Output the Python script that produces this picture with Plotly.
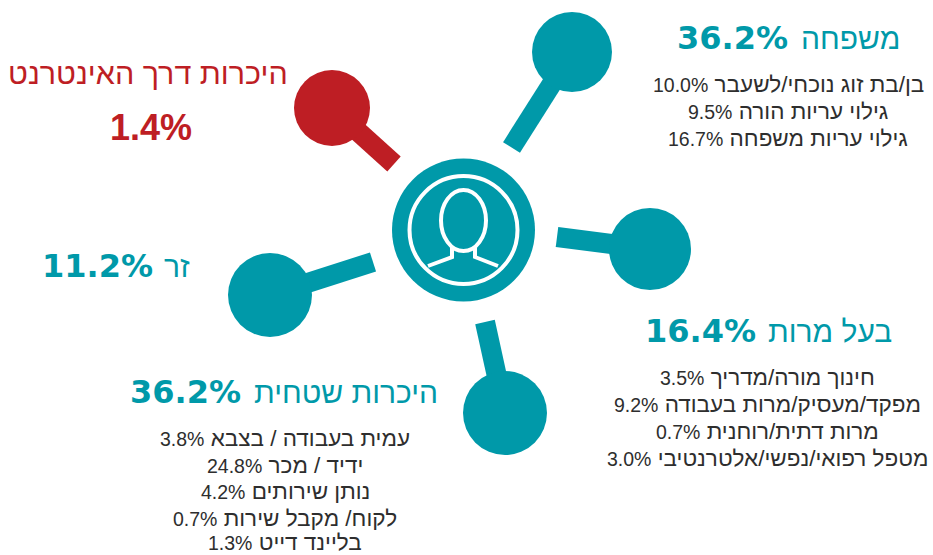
import plotly.graph_objects as go

# ---- data ----
categories = ["משפחה", "בעל מרות", "היכרות שטחית", "זר", "היכרות דרך האינטרנט"]
shares = [36.2, 16.4, 36.2, 11.2, 1.4]
family_items = ["בן/בת זוג נוכחי/לשעבר", "גילוי עריות הורה", "גילוי עריות משפחה"]
family_values = [10.0, 9.5, 16.7]
authority_items = ["חינוך מורה/מדריך", "מפקד/מעסיק/מרות בעבודה", "מרות דתית/רוחנית", "מטפל רפואי/נפשי/אלטרנטיבי"]
authority_values = [3.5, 9.2, 0.7, 3.0]
acquaint_items = ["עמית בעבודה / בצבא", "ידיד / מכר", "נותן שירותים", "לקוח/ מקבל שירות", "בליינד דייט"]
acquaint_values = [3.8, 24.8, 4.2, 0.7, 1.3]

# ---- layout (pixel space of the 933x555 canvas) ----
TEAL, RED, INK = "#0099A9", "#BE1E24", "#2E2E2E"
HUB = (463.5, 230)
nodes = [  # centre of circle, inner end of spoke, diameter, colour
    ((572, 52), (511.5, 147.5), 80, TEAL),
    ((650, 249), (557, 237), 82, TEAL),
    ((505, 413), (485, 322), 84, TEAL),
    ((270, 295), (373, 262), 84, TEAL),
    ((332, 108), (394, 164), 76, RED),
]
heads = [  # number x, label x, y
    (732, 850, 38), (700, 830, 331), (185, 346, 392), (97, 177, 266),
]
bodies = [(788, [84, 111, 138]), (767, [377, 404, 431, 458]), (285, [438, 465, 491, 518, 542])]

fig = go.Figure()
for (c, e, d, col) in nodes:
    fig.add_trace(go.Scatter(x=[c[0], e[0]], y=[c[1], e[1]], mode="lines",
                             line=dict(color=col, width=20), hoverinfo="skip"))
    fig.add_trace(go.Scatter(x=[c[0]], y=[c[1]], mode="markers", hoverinfo="skip",
                             marker=dict(color=col, size=d, line=dict(width=0))))
fig.add_trace(go.Scatter(x=[HUB[0]], y=[HUB[1]], mode="markers", hoverinfo="skip",
                         marker=dict(color=TEAL, size=143, line=dict(width=0))))
fig.add_trace(go.Scatter(x=[HUB[0]], y=[HUB[1]], mode="markers", hoverinfo="skip",
                         marker=dict(color="rgba(0,0,0,0)", size=108, line=dict(color="white", width=4))))
# shoulders of the person icon
fig.add_trace(go.Scatter(x=[428, 452, 452, None, 475, 475, 498],
                         y=[266, 257, 246, None, 246, 257, 266], mode="lines", hoverinfo="skip",
                         line=dict(color="white", width=4)))
shapes = [dict(type="circle", xref="x", yref="y", x0=441, x1=486, y0=190, y1=251,
               line=dict(color="white", width=4), fillcolor="rgba(0,0,0,0)", layer="above")]

anns = []
def text(x, y, s, size, color, family):
    anns.append(dict(x=x, y=y, text=s, showarrow=False, xanchor="center", yanchor="middle",
                     font=dict(size=size, color=color, family=family)))

WIDE = "DejaVu Sans"
HEB = "Liberation Sans"
for (nx, lx, y), cat, sh in zip(heads, categories, shares):
    text(nx, y, f"<b>{sh:.1f}%</b>", 32, TEAL, WIDE)
    text(lx, y, cat, 30, TEAL, HEB)
text(148, 73, categories[4], 30.5, RED, HEB)
text(151, 127, f"<b>{shares[4]:.1f}%</b>", 36, RED, HEB)

for (x, ys), items, vals in zip(bodies,
                                [family_items, authority_items, acquaint_items],
                                [family_values, authority_values, acquaint_values]):
    for y, it, v in zip(ys, items, vals):
        text(x, y, f'<span style="font-size:19.5px">{v:.1f}%</span> {it}', 22.5, INK, HEB)

fig.update_layout(width=933, height=555, margin=dict(l=0, r=0, t=0, b=0),
                  paper_bgcolor="white", plot_bgcolor="white", showlegend=False,
                  xaxis=dict(range=[0, 933], visible=False, fixedrange=True),
                  yaxis=dict(range=[555, 0], visible=False, fixedrange=True),
                  shapes=shapes, annotations=anns)
fig.write_html("out.html", config=dict(displayModeBar=False),
               post_script="document.body.style.margin='0';document.body.style.overflow='hidden';")
